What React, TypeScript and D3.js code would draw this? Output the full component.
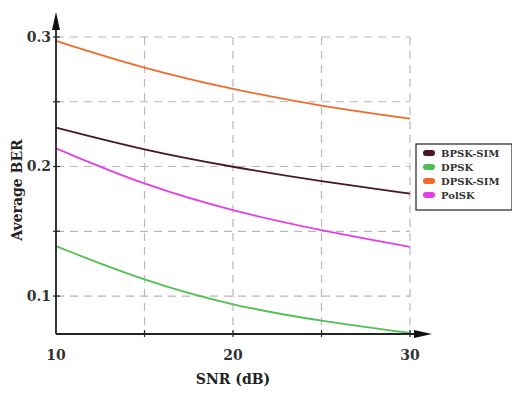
import React from "react";
import * as d3 from "d3";

const snr = [10, 15, 20, 25, 30];
const bpskSim = [0.230, 0.2125, 0.1995, 0.1885, 0.179];
const dpsk = [0.1385, 0.1115, 0.0925, 0.0805, 0.0715];
const dpskSim = [0.297, 0.2755, 0.2595, 0.2465, 0.237];
const polsk = [0.214, 0.1855, 0.1655, 0.1505, 0.138];
const seriesNames = ["BPSK-SIM", "DPSK", "DPSK-SIM", "PolSK"];
const seriesColors = ["#4a1520", "#4fc04f", "#f26a2a", "#e63ce6"];
const xTicks = [10, 20, 30];
const xGrid = [15, 20, 25, 30];
const yTicks = [0.1, 0.2, 0.3];
const yGrid = [0.1, 0.15, 0.2, 0.25, 0.3];

export default function App() {
  const W = 512, H = 395;
  const x = d3.scaleLinear().domain([10, 30]).range([56, 410]);
  const y = d3.scaleLinear().domain([0.0707, 0.3]).range([334, 37]);
  const line = d3.line<number>()
    .x((_, i) => x(snr[i]))
    .y((d) => y(d))
    .curve(d3.curveBasis);
  const all = [bpskSim, dpsk, dpskSim, polsk];
  const font = "'DejaVu Serif', 'Liberation Serif', serif";
  return (
    <svg width={W} height={H} style={{ position: "absolute", left: 0, top: 0, background: "#fff" }}>
      {yGrid.map((v) => (
        <line key={"yg" + v} x1={56} x2={410} y1={y(v)} y2={y(v)} stroke="#b8b8b8" strokeWidth={1.2} strokeDasharray="8,6" />
      ))}
      {xGrid.map((v) => (
        <line key={"xg" + v} x1={x(v)} x2={x(v)} y1={37} y2={334} stroke="#b8b8b8" strokeWidth={1.2} strokeDasharray="8,6" />
      ))}
      {all.map((s, i) => (
        <path key={i} d={line(s) || ""} fill="none" stroke={seriesColors[i]} strokeWidth={1.8} />
      ))}
      <line x1={56} x2={56} y1={22} y2={334} stroke="#222" strokeWidth={1.8} />
      <polygon points="56,12 52,30 60,30" fill="#111" />
      <line x1={56} x2={420} y1={334} y2={334} stroke="#222" strokeWidth={1.8} />
      <polygon points="432,334 414,330 414,338" fill="#111" />
      {yGrid.map((v) => (
        <line key={"yt" + v} x1={53} x2={60} y1={y(v)} y2={y(v)} stroke="#222" strokeWidth={1.2} />
      ))}
      {xGrid.map((v) => (
        <line key={"xt" + v} x1={x(v)} x2={x(v)} y1={330} y2={337} stroke="#222" strokeWidth={1.2} />
      ))}
      {yTicks.map((v) => (
        <text key={"yl" + v} x={51} y={y(v)} dy="0.35em" textAnchor="end" fontFamily={font} fontWeight="bold" fontSize={14} fill="#333">
          {d3.format(".1f")(v)}
        </text>
      ))}
      {xTicks.map((v) => (
        <text key={"xl" + v} x={x(v)} y={360} textAnchor="middle" fontFamily={font} fontWeight="bold" fontSize={14} fill="#333">
          {v}
        </text>
      ))}
      <text x={233} y={384} textAnchor="middle" fontFamily={font} fontWeight="bold" fontSize={14} fill="#222">SNR (dB)</text>
      <text transform="translate(22,190) rotate(-90)" textAnchor="middle" fontFamily={font} fontWeight="bold" fontSize={14} fill="#222">Average BER</text>
      <rect x={416} y={144} width={96} height={66} fill="#fff" stroke="#222" strokeWidth={1.2} />
      {seriesNames.map((n, i) => (
        <g key={n}>
          <rect x={423} y={150 + i * 14} width={12} height={6} rx={3} fill={seriesColors[i]} />
          <text x={441} y={153 + i * 14} dy="0.35em" fontFamily={font} fontWeight="bold" fontSize={10} fill="#333">{n}</text>
        </g>
      ))}
    </svg>
  );
}
